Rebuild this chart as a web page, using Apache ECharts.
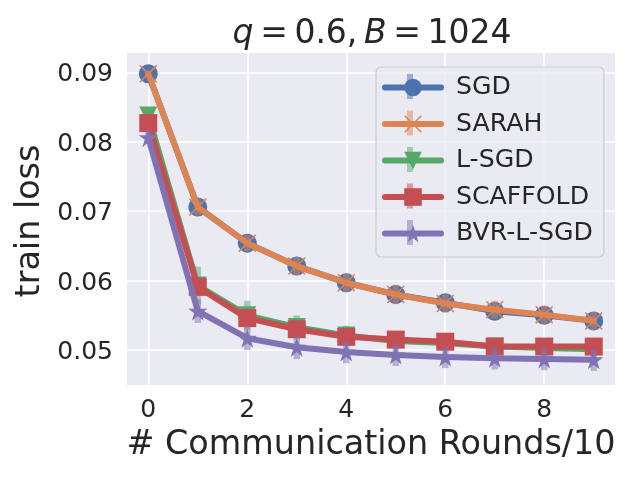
<!DOCTYPE html>
<html>
<head>
<meta charset="utf-8">
<style>html,body{margin:0;padding:0;background:#fff}#main{width:640px;height:480px}</style>
<script src="https://cdn.jsdelivr.net/npm/echarts@6/dist/echarts.min.js"></script>
</head>
<body>
<div id="main"></div>
<script>
var rounds = [0, 1, 2, 3, 4, 5, 6, 7, 8, 9];
var xTicks = [0, 2, 4, 6, 8];
var yTicks = [0.05, 0.06, 0.07, 0.08, 0.09];
var names = ['SGD', 'SARAH', 'L-SGD', 'SCAFFOLD', 'BVR-L-SGD'];
var colors = ['#4c72b0', '#dd8452', '#55a868', '#c44e52', '#8172b3'];

var sgd = [0.0898, 0.0706, 0.0654, 0.0621, 0.0597, 0.0580, 0.0568, 0.0556, 0.0550, 0.0542];
var sarah = [0.0898, 0.0706, 0.0654, 0.0621, 0.0597, 0.0580, 0.0567, 0.0558, 0.0551, 0.0542];
var lsgd = [0.0838, 0.0593, 0.0550, 0.0533, 0.0521, 0.0513, 0.0510, 0.0505, 0.0503, 0.0501];
var scaffold = [0.0827, 0.0591, 0.0546, 0.0530, 0.0519, 0.0515, 0.0512, 0.0505, 0.0505, 0.0505];
var bvr = [0.0806, 0.0556, 0.0517, 0.0504, 0.0497, 0.0493, 0.0490, 0.0488, 0.0487, 0.0486];

var sgdErr = [0.0004, 0.0012, 0.0013, 0.0013, 0.0013, 0.0013, 0.0013, 0.0012, 0.0012, 0.0012];
var sarahErr = [0.0004, 0.0012, 0.0012, 0.0013, 0.0013, 0.0014, 0.0013, 0.0013, 0.0013, 0.0013];
var lsgdErr = [0.0010, 0.0027, 0.0021, 0.0017, 0.0014, 0.0012, 0.0012, 0.0012, 0.0010, 0.0010];
var scaffoldErr = [0.0004, 0.0012, 0.0012, 0.0012, 0.0010, 0.0010, 0.0010, 0.0010, 0.0010, 0.0008];
var bvrErr = [0.0008, 0.0017, 0.0017, 0.0017, 0.0016, 0.0016, 0.0016, 0.0016, 0.0016, 0.0016];

var values = [sgd, sarah, lsgd, scaffold, bvr];
var errors = [sgdErr, sarahErr, lsgdErr, scaffoldErr, bvrErr];

var starPath = 'path://M50 0 L62 36 L100 36 L69 59 L81 96 L50 73 L19 96 L31 59 L0 36 L38 36 Z';
var crossPath = 'path://M6 0 L50 44 L94 0 L100 6 L56 50 L100 94 L94 100 L50 56 L6 100 L0 94 L44 50 L0 6 Z';
var symbols = ['circle', crossPath, 'triangle', 'rect', starPath];
var sizes = [19, 18, 18, 18, 19];
var rotates = [0, 0, 180, 0, 0];

var textColor = '#262626';
var font = '"DejaVu Sans"';
var series = [];

// error bars are a custom series under each line
names.forEach(function (name, i) {
	series.push({
		type: 'custom',
		z: 2 + 2 * i,
		silent: true,
		data: rounds.map(function (r, k) {
			return [r, values[i][k] - errors[i][k], values[i][k] + errors[i][k]];
		}),
		encode: { x: 0, y: [1, 2] },
		renderItem: function (params, api) {
			var low = api.coord([api.value(0), api.value(1)]);
			var high = api.coord([api.value(0), api.value(2)]);
			return {
				type: 'rect',
				shape: { x: low[0] - 3.2, y: high[1], width: 6.4, height: low[1] - high[1] },
				style: { fill: colors[i], opacity: 0.5 }
			};
		}
	});
	series.push({
		name: name,
		type: 'line',
		z: 3 + 2 * i,
		data: rounds.map(function (r, k) { return [r, values[i][k]]; }),
		symbol: symbols[i],
		symbolSize: sizes[i],
		symbolRotate: rotates[i],
		showAllSymbol: true,
		lineStyle: { color: colors[i], width: 6, cap: 'round' },
		itemStyle: { color: colors[i], opacity: 1 }
	});
});

// the vertical error bar shown in each legend key
var legendBars = names.map(function (name, i) {
	return {
		type: 'rect',
		z: 30,
		shape: { x: 407, y: 74 + 36.5 * i, width: 6, height: 25 },
		style: { fill: colors[i], opacity: 0.5 }
	};
});

var myChart = echarts.init(document.getElementById('main'), null, { renderer: 'canvas' });
myChart.setOption({
	animation: false,
	backgroundColor: '#ffffff',
	textStyle: { fontFamily: font, color: textColor },
	title: {
		text: '{i|q}\u2009=\u20090.6,\u2009{i|B}\u2009=\u20091024',
		left: 367,
		top: 13,
		textAlign: 'center',
		textStyle: {
			fontSize: 33,
			fontWeight: 'normal',
			fontFamily: font,
			color: textColor,
			rich: { i: { fontStyle: 'italic', fontSize: 33, fontFamily: font, color: textColor } }
		}
	},
	grid: {
		left: 127, right: 25, top: 53, bottom: 95,
		show: true, backgroundColor: '#eaeaf2', borderWidth: 0
	},
	xAxis: {
		type: 'value',
		min: -0.43,
		max: 9.43,
		name: '# Communication Rounds/10',
		nameLocation: 'middle',
		nameGap: 44,
		nameTextStyle: { fontSize: 33.4, color: textColor, fontFamily: font },
		axisLine: { show: false },
		axisTick: { show: false, customValues: xTicks },
		axisLabel: { customValues: xTicks, fontSize: 25, color: textColor, margin: 13, fontFamily: font },
		splitLine: { show: true, lineStyle: { color: '#ffffff', width: 1.5 } }
	},
	yAxis: {
		type: 'value',
		min: 0.04496,
		max: 0.0928,
		name: 'train loss',
		nameLocation: 'middle',
		nameGap: 72,
		nameTextStyle: { fontSize: 33.4, color: textColor, fontFamily: font, padding: [0, 4, 0, 0] },
		axisLine: { show: false },
		axisTick: { show: false, customValues: yTicks },
		axisLabel: {
			customValues: yTicks, color: textColor, margin: 14, fontFamily: font, fontSize: 25,
			formatter: function (v) { return '{v|' + v.toFixed(2) + '}'; },
			rich: { v: { fontSize: 25, fontFamily: font, color: textColor, lineHeight: 30, verticalAlign: 'bottom' } }
		},
		splitLine: { show: true, lineStyle: { color: '#ffffff', width: 1.5 } }
	},
	legend: {
		left: 376,
		top: 67,
		orient: 'vertical',
		z: 20,
		data: names,
		itemWidth: 56,
		itemHeight: 22,
		itemGap: 11.5,
		padding: [8, 11, 11, 6],
		backgroundColor: 'rgba(234,234,242,0.8)',
		borderColor: '#cccccc',
		borderWidth: 1.2,
		borderRadius: 5,
		selectedMode: false,
		lineStyle: { width: 6, cap: 'round' },
		textStyle: { fontSize: 25.2, color: textColor, fontFamily: font, padding: [0, 0, 0, 10] }
	},
	graphic: legendBars,
	series: series
});
</script>
</body>
</html>
